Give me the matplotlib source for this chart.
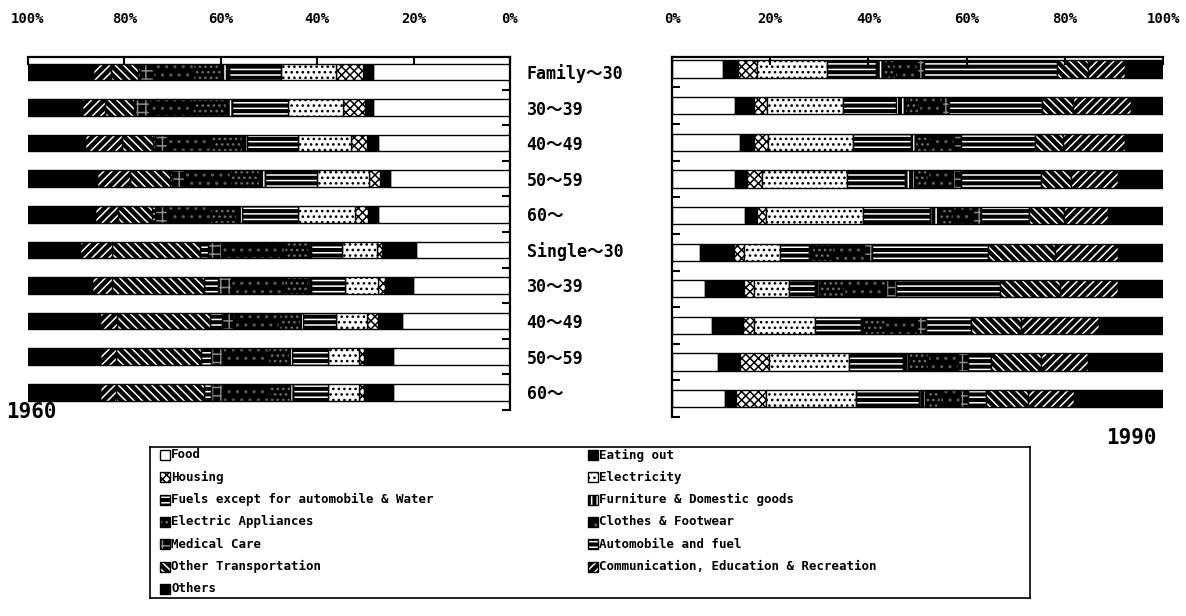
import matplotlib
matplotlib.use("Agg")
import matplotlib.pyplot as plt
from matplotlib.patches import Rectangle

plt.rcParams['font.family'] = ['DejaVu Sans Mono', 'Noto Sans CJK JP']
plt.rcParams['font.weight'] = 'bold'
plt.rcParams['hatch.linewidth'] = 1.1

# ---------------------------------------------------------------- data
groups = ["Family～30", "30～39", "40～49", "50～59", "60～",
          "Single～30", "30～39", "40～49", "50～59", "60～"]

categories = ["Food", "Eating out", "Housing", "Electricity",
              "Fuels except for automobile & Water", "Furniture & Domestic goods",
              "Electric Appliances", "Clothes & Footwear", "Medical Care",
              "Automobile and fuel", "Other Transportation",
              "Communication, Education & Recreation", "Others"]

# 1960 shares (%) per household group
food_1960 = [28.4, 28.4, 27.4, 24.9, 27.4, 19.5, 20.1, 22.4, 24.3, 24.3]
eating_1960 = [2.1, 1.7, 2.3, 2.1, 2.1, 7.1, 5.8, 5.0, 6.0, 6.0]
housing_1960 = [5.6, 4.6, 3.3, 2.3, 2.7, 1.0, 1.5, 2.3, 1.0, 1.0]
electricity_1960 = [11.4, 11.4, 11.0, 10.8, 11.8, 7.3, 6.8, 6.4, 6.4, 6.4]
fuels_1960 = [10.8, 11.6, 10.6, 10.8, 11.6, 6.4, 7.1, 6.8, 7.5, 7.3]
furniture_1960 = [1.7, 1.2, 1.0, 1.2, 1.2, 0.6, 0.6, 0.6, 0.6, 0.6]
appliances_1960 = [5.8, 7.0, 6.5, 6.0, 5.5, 5.0, 5.0, 4.5, 4.5, 4.5]
clothes_1960 = [8.3, 9.0, 9.0, 9.5, 8.8, 13.0, 11.0, 9.5, 9.5, 9.7]
medical_1960 = [2.7, 2.9, 2.5, 2.5, 2.5, 2.7, 2.7, 2.2, 2.2, 2.2]
automobile_1960 = [0.3, 0.3, 0.4, 0.4, 0.6, 1.7, 2.9, 2.5, 2.1, 1.5]
transport_1960 = [5.6, 6.0, 6.4, 8.3, 7.1, 18.3, 19.1, 19.3, 17.6, 18.2]
communication_1960 = [3.9, 4.8, 7.7, 6.8, 4.8, 6.6, 4.1, 3.5, 3.3, 3.3]
others_1960 = [13.4, 11.1, 11.9, 14.4, 13.9, 10.8, 13.3, 15.0, 15.0, 15.0]

# 1990 shares (%) per household group
food_1990 = [10.4, 12.8, 13.8, 12.8, 14.9, 5.7, 6.7, 8.1, 9.4, 10.8]
eating_1990 = [3.1, 3.9, 2.9, 2.4, 2.4, 6.9, 7.9, 6.3, 4.5, 2.2]
housing_1990 = [3.9, 2.6, 2.9, 3.1, 1.8, 2.0, 2.0, 2.4, 5.9, 6.1]
electricity_1990 = [14.1, 15.5, 17.3, 17.3, 19.8, 7.3, 7.3, 12.4, 16.3, 18.3]
fuels_1990 = [10.0, 10.8, 11.8, 11.8, 13.6, 6.1, 5.3, 9.2, 11.0, 13.0]
furniture_1990 = [1.4, 1.8, 0.8, 1.8, 1.8, 0.6, 0.8, 0.4, 1.0, 1.2]
appliances_1990 = [2.5, 3.0, 3.0, 3.0, 3.0, 4.0, 5.0, 4.5, 4.0, 3.0]
clothes_1990 = [4.5, 4.5, 5.0, 5.0, 4.0, 6.5, 8.5, 6.5, 6.2, 4.0]
medical_1990 = [1.4, 1.5, 1.4, 1.6, 1.6, 1.7, 2.2, 2.0, 2.0, 1.6]
automobile_1990 = [27.1, 18.9, 15.1, 16.3, 9.8, 23.6, 21.2, 9.0, 4.7, 3.7]
transport_1990 = [6.3, 6.3, 5.7, 6.1, 7.1, 13.6, 12.2, 10.2, 10.2, 8.6]
communication_1990 = [7.5, 11.8, 12.6, 9.6, 9.0, 12.8, 11.8, 15.9, 9.6, 9.4]
others_1990 = [7.8, 6.6, 7.7, 9.2, 11.2, 9.2, 9.1, 13.1, 15.2, 18.1]

pct_ticks = [0, 20, 40, 60, 80, 100]
pct_labels = ["0%", "20%", "40%", "60%", "80%", "100%"]

series_1960 = [food_1960, eating_1960, housing_1960, electricity_1960, fuels_1960,
               furniture_1960, appliances_1960, clothes_1960, medical_1960,
               automobile_1960, transport_1960, communication_1960, others_1960]
series_1990 = [food_1990, eating_1990, housing_1990, electricity_1990, fuels_1990,
               furniture_1990, appliances_1990, clothes_1990, medical_1990,
               automobile_1990, transport_1990, communication_1990, others_1990]

# ---------------------------------------------------------------- fills
# (background colour, hatch, hatch colour) for each category
fills = [
    ("white", None, None),
    ("black", None, None),
    ("white", "xxxx", "black"),
    ("white", "...", "black"),
    ("black", "---", "white"),
    ("black", "|||", "white"),
    ("black", "...", "#6e6e6e"),
    ("black", "..", "#5a5a5a"),
    ("black", "++", "#8a8a8a"),
    ("black", "---", "white"),
    ("black", "\\\\\\\\", "white"),
    ("black", "////", "white"),
    ("black", None, None),
]

W, H = 1186, 616
fig = plt.figure(figsize=(W / 100, H / 100), dpi=100)


def px_axes(x0, y0, x1, y1):
    return fig.add_axes([x0 / W, 1 - y1 / H, (x1 - x0) / W, (y1 - y0) / H])


BAR_H = 0.47


def draw_stack(ax, series):
    rows = list(range(len(groups)))
    left = [0.0] * len(groups)
    for vals, (face, hatch, hcol) in zip(series, fills):
        ax.barh(rows, vals, left=left, height=BAR_H, color=face, linewidth=0)
        if hatch:
            ax.barh(rows, vals, left=left, height=BAR_H, facecolor="none",
                    edgecolor=hcol, hatch=hatch, linewidth=0)
        ax.barh(rows, vals, left=left, height=BAR_H, facecolor="none",
                edgecolor="black", linewidth=1.0)
        left = [l + v for l, v in zip(left, vals)]


def style_axes(ax, side):
    for s in ax.spines.values():
        s.set_visible(False)
    ax.spines["top"].set_visible(True)
    ax.spines[side].set_visible(True)
    ax.spines["top"].set_linewidth(1.6)
    ax.spines[side].set_linewidth(1.6)
    ax.xaxis.tick_top()
    ax.set_xticks(pct_ticks)
    ax.set_xticklabels(pct_labels, fontsize=10, fontweight="bold")
    ax.tick_params(axis="x", direction="in", length=6, width=1.5, pad=22)
    ax.patch.set_alpha(0)


# ---------------------------------------------------------------- 1960 panel
ax60 = px_axes(28, 57, 510, 410)
draw_stack(ax60, series_1960)
ax60.set_xlim(100, 0)
ax60.set_ylim(9.5, -0.42)
style_axes(ax60, "right")
ax60.yaxis.tick_right()
ax60.set_yticks(range(len(groups)))
ax60.set_yticklabels(groups, fontsize=12, fontweight="bold")
ax60.set_yticks([i + 0.5 for i in range(len(groups))], minor=True)
ax60.tick_params(axis="y", which="major", length=0, pad=12)
ax60.tick_params(axis="y", which="minor", direction="in", length=6, width=1.5,
                 left=False, right=True)

# ---------------------------------------------------------------- 1990 panel
ax90 = px_axes(672, 57, 1163, 417)
draw_stack(ax90, series_1990)
ax90.set_xlim(0, 100)
ax90.set_ylim(9.5, -0.33)
style_axes(ax90, "left")
ax90.set_yticks([])
ax90.set_yticks([i + 0.5 for i in range(len(groups))], minor=True)
ax90.tick_params(axis="y", which="minor", direction="in", length=6, width=1.5,
                 left=True, right=False, labelleft=False)

fig.text(6 / W, 1 - 412 / H, "1960", fontsize=15, fontweight="bold",
         ha="left", va="center")
fig.text(1157 / W, 1 - 438 / H, "1990", fontsize=15, fontweight="bold",
         ha="right", va="center")

# ---------------------------------------------------------------- legend
lx0, ly0, lx1, ly1 = 150, 447, 1030, 598
lg = px_axes(lx0, ly0, lx1, ly1)
lg.set_xlim(lx0, lx1)
lg.set_ylim(ly1, ly0)
lg.set_xticks([])
lg.set_yticks([])
for s in lg.spines.values():
    s.set_linewidth(1.2)

col_x = [160, 588]
row_y0, row_dy = 455, 22.3
for i, (name, (face, hatch, hcol)) in enumerate(zip(categories, fills)):
    col, row = i % 2, i // 2
    x = col_x[col]
    y = row_y0 + row * row_dy
    sz = 10
    lg.add_patch(Rectangle((x, y - sz / 2), sz, sz, facecolor=face, linewidth=0))
    if hatch:
        lg.add_patch(Rectangle((x, y - sz / 2), sz, sz, facecolor="none",
                               edgecolor=hcol, hatch=hatch, linewidth=0))
    lg.add_patch(Rectangle((x, y - sz / 2), sz, sz, facecolor="none",
                           edgecolor="black", linewidth=1.0))
    lg.text(x + sz + 1, y, name, fontsize=9, fontweight="bold",
            ha="left", va="center")

fig.savefig("out.png", dpi=100, facecolor="white")
